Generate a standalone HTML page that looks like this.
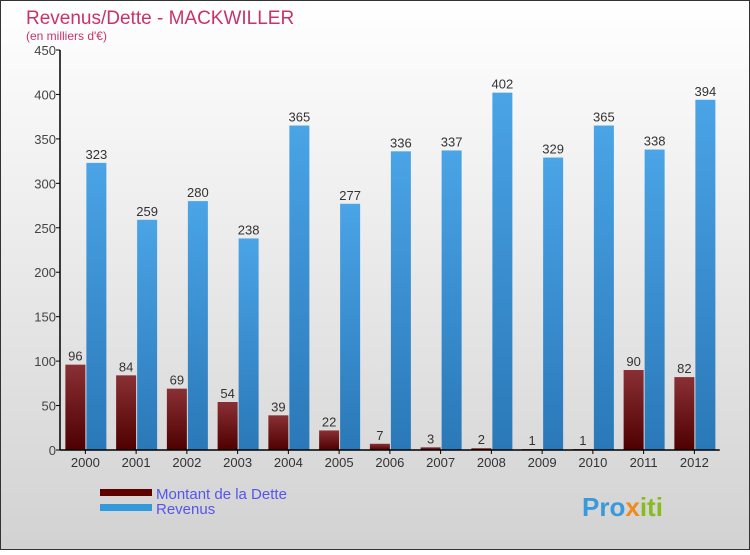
<!DOCTYPE html>
<html><head><meta charset="utf-8"><style>
body{margin:0;width:750px;height:550px;overflow:hidden;font-family:"Liberation Sans",sans-serif}
</style></head><body>
<svg width="750" height="550" xmlns="http://www.w3.org/2000/svg">
<defs>
<linearGradient id="bg" x1="0" y1="0" x2="0" y2="1"><stop offset="0" stop-color="#ffffff"/><stop offset="1" stop-color="#d2d2d2"/></linearGradient>
<linearGradient id="gd" x1="0" y1="0" x2="0" y2="1"><stop offset="0" stop-color="#8a3034"/><stop offset="1" stop-color="#4e0000"/></linearGradient>
<linearGradient id="gr" x1="0" y1="0" x2="0" y2="1"><stop offset="0" stop-color="#4aa4e6"/><stop offset="1" stop-color="#2a78b8"/></linearGradient>
</defs>
<rect x="0.5" y="0.5" width="749" height="549" fill="url(#bg)" stroke="#333"/>
<text x="26" y="24" font-size="19" fill="#c8336a">Revenus/Dette - MACKWILLER</text>
<text x="26" y="40" font-size="12" fill="#c8336a">(en milliers d'€)</text>
<g id="plot"></g>
<rect x="100" y="489" width="52" height="7" fill="#5e0000"/>
<text x="156" y="499" font-size="15" fill="#5555ee">Montant de la Dette</text>
<rect x="100" y="504" width="52" height="7" fill="#3399dd"/>
<text x="156" y="514" font-size="15" fill="#5555ee">Revenus</text>
<text x="582" y="516" font-size="26" font-weight="bold" fill="#3a9ad9">Pro<tspan fill="#f08a1c">x</tspan><tspan fill="#88bb22">iti</tspan></text>
</svg>
<script>
const years=["2000","2001","2002","2003","2004","2005","2006","2007","2008","2009","2010","2011","2012"];
const dette=[96,84,69,54,39,22,7,3,2,1,1,90,82];
const revenus=[323,259,280,238,365,277,336,337,402,329,365,338,394];
const yTicks=[0,50,100,150,200,250,300,350,400,450];
const NS="http://www.w3.org/2000/svg";
const g=document.getElementById('plot');
const x0=60,bw=50.75,y0=450,yTop=50,ymax=450;
const y=v=>y0-(v/ymax)*(y0-yTop);
const xc=i=>x0+bw*(i+0.5);
function mk(t,a,txt){const e=document.createElementNS(NS,t);for(const k in a)e.setAttribute(k,a[k]);if(txt!==undefined)e.textContent=txt;g.appendChild(e);return e;}
yTicks.forEach(v=>{
 const l=mk('line',{x1:x0-4,x2:x0,y1:y(v),y2:y(v),stroke:'#000'});
 
 
 const t=mk('text',{x:x0-4,y:y(v)+5,'font-size':13,fill:'#444','text-anchor':'end'},v);
 
 
});
years.forEach((yr,i)=>{
 const c=xc(i);
 const b1=mk('rect',{x:c-20,y:y(dette[i]),width:20,height:y0-y(dette[i]),fill:'url(#gd)'});
 
 
 const b2=mk('rect',{x:c+1,y:y(revenus[i]),width:20,height:y0-y(revenus[i]),fill:'url(#gr)'});
 
 
 const t1=mk('text',{x:c-10,y:y(dette[i])-4,'font-size':13,fill:'#333','text-anchor':'middle'},dette[i]);
 
 
 const t2=mk('text',{x:c+11,y:y(revenus[i])-4,'font-size':13,fill:'#333','text-anchor':'middle'},revenus[i]);
 
 
 const tk=mk('line',{x1:c,x2:c,y1:y0,y2:y0+4,stroke:'#000'});
 
 
 const xl=mk('text',{x:c,y:y0+17,'font-size':13,fill:'#333','text-anchor':'middle'},yr);
 
 
});
const ay=mk('line',{x1:x0,x2:x0,y1:yTop,y2:y0,stroke:'#000','stroke-width':1.5});


const ax=mk('line',{x1:x0,x2:x0+bw*years.length,y1:y0,y2:y0,stroke:'#000','stroke-width':1.5});


</script>
</body></html>
